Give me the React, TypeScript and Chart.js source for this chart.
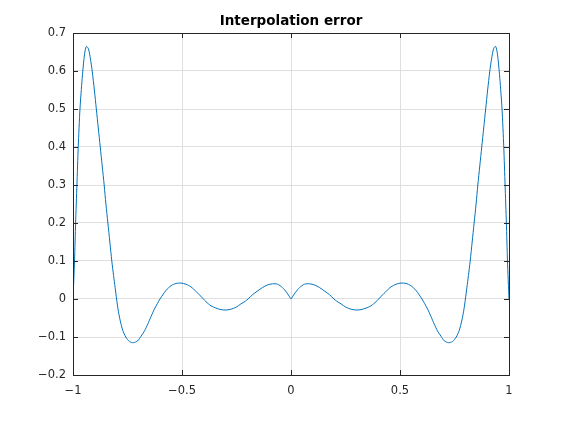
import React, { useEffect, useRef } from "react";
import { Chart, registerables } from "chart.js";

Chart.register(...registerables);

const titleText = "Interpolation error";

// left half of the error curve (x <= 0)
const leftX: number[] = [
  -1.0, -0.993, -0.988, -0.982, -0.976, -0.968, -0.958, -0.95, -0.944, -0.938, -0.929, -0.92, -0.912,
  -0.902, -0.893, -0.884, -0.875, -0.866, -0.857, -0.849, -0.84, -0.831, -0.822, -0.814, -0.807, -0.8,
  -0.792, -0.783, -0.772, -0.758, -0.741, -0.723, -0.703, -0.688, -0.672, -0.657, -0.642, -0.627, -0.613,
  -0.601, -0.588, -0.573, -0.55, -0.527, -0.505, -0.482, -0.459, -0.434, -0.42, -0.402, -0.39, -0.367,
  -0.344, -0.321, -0.299, -0.276, -0.253, -0.23, -0.21, -0.197, -0.177, -0.154, -0.131, -0.108, -0.085,
  -0.062, -0.039, -0.021, -0.009, 0,
];
const leftY: number[] = [
  0, 0.1, 0.2, 0.3, 0.4, 0.5, 0.58, 0.63, 0.655, 0.665, 0.658, 0.632, 0.6,
  0.55, 0.5, 0.45, 0.4, 0.35, 0.3, 0.25, 0.2, 0.15, 0.1, 0.062, 0.031, 0,
  -0.032, -0.058, -0.082, -0.1, -0.112, -0.115, -0.11, -0.098, -0.084, -0.066, -0.046, -0.027, -0.012,
  0, 0.011, 0.023, 0.035, 0.041, 0.042, 0.039, 0.032, 0.019, 0.011, 0, -0.007, -0.018,
  -0.024, -0.028, -0.029, -0.027, -0.022, -0.013, -0.006, 0, 0.011, 0.021, 0.03, 0.037, 0.04,
  0.039, 0.03, 0.018, 0.008, 0,
];
// right half (x > 0)
const rightX: number[] = [
  0.009, 0.021, 0.039, 0.062, 0.085, 0.108, 0.131, 0.154, 0.177, 0.197, 0.21, 0.23, 0.253, 0.276, 0.299,
  0.321, 0.344, 0.367, 0.39, 0.402, 0.42, 0.434, 0.459, 0.482, 0.505, 0.527, 0.55, 0.573, 0.588, 0.601,
  0.613, 0.627, 0.642, 0.657, 0.672, 0.688, 0.703, 0.723, 0.741, 0.758, 0.772, 0.783, 0.792, 0.8,
  0.807, 0.814, 0.822, 0.831, 0.84, 0.849, 0.857, 0.866, 0.875, 0.884, 0.893, 0.902, 0.912, 0.92, 0.929,
  0.938, 0.944, 0.95, 0.958, 0.968, 0.976, 0.982, 0.988, 0.993, 1.0,
];
const rightY: number[] = [
  0.008, 0.018, 0.03, 0.039, 0.04, 0.037, 0.03, 0.021, 0.011, 0, -0.006, -0.013, -0.022, -0.027, -0.029,
  -0.028, -0.024, -0.018, -0.007, 0, 0.011, 0.019, 0.032, 0.039, 0.042, 0.041, 0.035, 0.023, 0.011, 0,
  -0.012, -0.027, -0.046, -0.066, -0.084, -0.098, -0.11, -0.115, -0.112, -0.1, -0.082, -0.058, -0.032, 0,
  0.031, 0.062, 0.1, 0.15, 0.2, 0.25, 0.3, 0.35, 0.4, 0.45, 0.5, 0.55, 0.6, 0.632, 0.658,
  0.665, 0.655, 0.63, 0.58, 0.5, 0.4, 0.3, 0.2, 0.1, 0,
];

const xTicks: number[] = [-1, -0.5, 0, 0.5, 1];
const yTicks: number[] = [-0.2, -0.1, 0, 0.1, 0.2, 0.3, 0.4, 0.5, 0.6, 0.7];

const fmt = (v: number) => {
  const r = Math.round(v * 10) / 10;
  if (r === 0) return "0";
  const s = Math.abs(r) === 1 ? "1" : Math.abs(r).toString();
  return (r < 0 ? "\u2212" : "") + s;
};

const axisColor = "#262626";
const gridColor = "#dfdfdf";
const fontFamily = "'DejaVu Sans', sans-serif";

const boxPlugin = {
  id: "matlabBox",
  afterDraw(chart: any) {
    const { ctx, chartArea } = chart;
    const { left, right, top, bottom } = chartArea;
    const xs = chart.scales.x;
    const ys = chart.scales.y;
    ctx.save();
    ctx.strokeStyle = axisColor;
    ctx.lineWidth = 1;
    const tl = 5;
    ctx.beginPath();
    xTicks.forEach((t) => {
      const px = Math.round(xs.getPixelForValue(t)) + 0.5;
      ctx.moveTo(px, bottom);
      ctx.lineTo(px, bottom - tl);
      ctx.moveTo(px, top);
      ctx.lineTo(px, top + tl);
    });
    yTicks.forEach((t) => {
      const py = Math.round(ys.getPixelForValue(t)) + 0.5;
      ctx.moveTo(left, py);
      ctx.lineTo(left + tl, py);
      ctx.moveTo(right, py);
      ctx.lineTo(right - tl, py);
    });
    ctx.stroke();
    ctx.strokeRect(Math.round(left) + 0.5, Math.round(top) + 0.5, Math.round(right - left), Math.round(bottom - top));
    ctx.fillStyle = "#000000";
    ctx.font = `bold 13.5px ${fontFamily}`;
    ctx.textAlign = "center";
    ctx.textBaseline = "alphabetic";
    ctx.fillText(titleText, (left + right) / 2, 25);
    ctx.restore();
  },
};

export default function App() {
  const ref = useRef<HTMLCanvasElement | null>(null);
  useEffect(() => {
    if (!ref.current) return;
    const xs = [...leftX, ...rightX];
    const ys = [...leftY, ...rightY];
    const data = xs.map((x, i) => ({ x, y: ys[i] }));
    const chart = new Chart(ref.current, {
      type: "scatter",
      data: {
        datasets: [
          {
            label: titleText,
            data,
            showLine: true,
            borderColor: "#0072BD",
            borderWidth: 1,
            pointRadius: 0,
            tension: 0.25,
            fill: false,
          } as any,
        ],
      },
      options: {
        responsive: false,
        animation: false,
        events: [],
        layout: { padding: { left: 0, right: 53, top: 33, bottom: 0 } },
        plugins: {
          legend: { display: false },
          tooltip: { enabled: false },
          title: { display: false },
        },
        scales: {
          x: {
            type: "linear",
            min: -1,
            max: 1,
            afterFit(scale: any) {
              scale.height = 47;
            },
            afterBuildTicks(scale: any) {
              scale.ticks = xTicks.map((v) => ({ value: v }));
            },
            ticks: {
              color: axisColor,
              font: { family: fontFamily, size: 11.5 },
              padding: 9,
              maxRotation: 0,
              callback: (v: any) => fmt(Number(v)),
            },
            grid: { color: gridColor, drawTicks: false },
            border: { display: false },
          },
          y: {
            type: "linear",
            min: -0.2,
            max: 0.7,
            afterFit(scale: any) {
              scale.width = 73;
            },
            afterBuildTicks(scale: any) {
              scale.ticks = yTicks.map((v) => ({ value: v }));
            },
            ticks: {
              color: axisColor,
              font: { family: fontFamily, size: 11.5 },
              padding: 7,
              callback: (v: any) => fmt(Number(v)),
            },
            grid: { color: gridColor, drawTicks: false },
            border: { display: false },
          },
        },
      },
      plugins: [boxPlugin],
    });
    return () => chart.destroy();
  }, []);
  return (
    <div style={{ position: "fixed", left: 0, top: 0, width: 562, height: 422, background: "#fff" }}>
      <canvas ref={ref} width={562} height={422} style={{ display: "block" }} />
    </div>
  );
}
